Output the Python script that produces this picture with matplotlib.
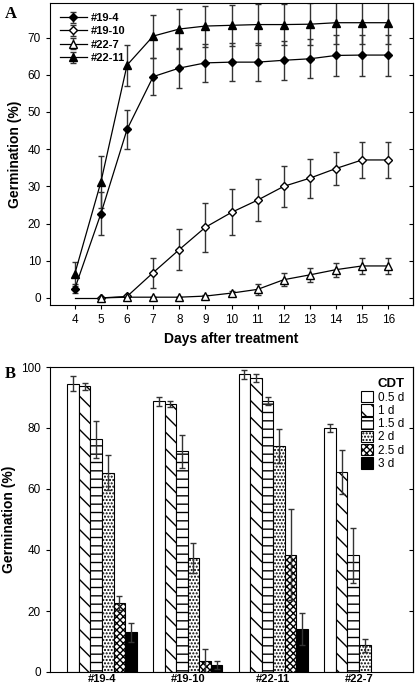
import numpy as np
import matplotlib
matplotlib.use("Agg")
import matplotlib.pyplot as plt
from matplotlib.patches import Patch

plt.rcParams['font.family'] = ['Liberation Sans', 'DejaVu Sans']
plt.rcParams['hatch.linewidth'] = 1.0

# ---- panel A data: germination time course ----
days = [4, 5, 6, 7, 8, 9, 10, 11, 12, 13, 14, 15, 16]
g19_4 = [2.5, 22.7, 45.3, 59.5, 61.8, 63.2, 63.4, 63.4, 63.9, 64.3, 65.2, 65.3, 65.3]
g19_4_err = [1.3, 5.7, 5.2, 5.0, 5.3, 5.2, 5.2, 5.2, 5.3, 5.2, 5.5, 5.5, 5.5]
g19_10 = [0, 0, 0.4, 6.8, 13.0, 19.0, 23.0, 26.3, 30.0, 32.2, 34.8, 37.1, 37.1]
g19_10_err = [0, 0, 0.3, 4.0, 5.5, 6.6, 6.2, 5.6, 5.6, 5.2, 4.5, 4.8, 4.8]
g22_7 = [0, 0, 0.2, 0.2, 0.2, 0.5, 1.3, 2.3, 4.9, 6.2, 7.6, 8.6, 8.6]
g22_7_err = [0, 0, 0, 0, 0, 0.3, 0.5, 1.5, 1.8, 1.9, 1.9, 2.2, 2.2]
g22_11 = [6.5, 31.2, 62.6, 70.4, 72.3, 73.1, 73.3, 73.5, 73.5, 73.6, 74.0, 74.0, 74.0]
g22_11_err = [3.2, 7.0, 5.5, 5.8, 5.3, 5.5, 5.5, 5.5, 5.5, 5.6, 5.8, 5.8, 5.8]

# ---- panel B data: germination after cold-dark treatment ----
lines_b = ['#19-4', '#19-10', '#22-11', '#22-7']
cdt = ['0.5 d', '1 d', '1.5 d', '2 d', '2.5 d', '3 d']
germ_b = [
    [94.5, 93.7, 76.3, 65.3, 22.6, 13.0],
    [88.7, 88.0, 72.3, 37.3, 3.7, 2.3],
    [97.6, 96.4, 88.8, 74.2, 38.5, 14.0],
    [80.0, 65.5, 38.3, 8.7, np.nan, np.nan],
]
germ_b_err = [
    [2.5, 1.2, 6.0, 5.7, 2.3, 3.0],
    [1.6, 1.0, 5.3, 5.0, 3.7, 1.2],
    [1.5, 1.2, 1.3, 5.6, 14.8, 5.3],
    [1.2, 7.3, 9.0, 2.0, 0, 0],
]

fig = plt.figure(figsize=(4.15, 6.88), dpi=100)

# ---------------- panel A ----------------
axA = fig.add_axes([50/415, 1-305/688, 363/415, 302/688])
ebkw = dict(ecolor='#333333', elinewidth=1.0, capsize=2, capthick=1.0)
axA.errorbar(days, g19_4, yerr=g19_4_err, color='black', lw=0.9, marker='D', ms=4.5,
             mfc='black', mec='black', label='#19-4', **ebkw)
axA.errorbar(days[1:], g19_10[1:], yerr=g19_10_err[1:], color='black', lw=0.9, marker='D', ms=4.5,
             mfc='white', mec='black', label='#19-10', **ebkw)
axA.plot(days[:2], g19_10[:2], color='black', lw=0.9)
axA.errorbar(days[1:], g22_7[1:], yerr=g22_7_err[1:], color='black', lw=0.9, marker='^', ms=6,
             mfc='white', mec='black', label='#22-7', **ebkw)
axA.errorbar(days, g22_11, yerr=g22_11_err, color='black', lw=0.9, marker='^', ms=6,
             mfc='black', mec='black', label='#22-11', **ebkw)

axA.set_xlim(3.05, 16.95)
axA.set_ylim(-1.9, 79.3)
axA.set_xticks(days)
axA.set_yticks([0, 10, 20, 30, 40, 50, 60, 70])
axA.tick_params(labelsize=8.5, direction='out', length=3)
axA.set_xlabel('Days after treatment', fontsize=10, fontweight='bold')
axA.set_ylabel('Germination (%)', fontsize=10, fontweight='bold')
secA = axA.secondary_yaxis('right')
secA.set_yticks([0, 10, 20, 30, 40, 50, 60, 70])
secA.tick_params(direction='in', length=3, labelright=False)
leg = axA.legend(loc='upper left', frameon=False, handlelength=2.4,
                 borderaxespad=0.5, labelspacing=0.3, handletextpad=0.4,
                 prop={'weight': 'bold', 'size': 8})
fig.text(5/415, 1-18/688, 'A', fontsize=12, fontweight='bold', family='Liberation Serif')

# ---------------- panel B ----------------
axB = fig.add_axes([50/415, 1-672/688, 363/415, 305/688])
width = 0.135
faces = ['white', 'white', 'white', 'white', 'white', 'black']
hatches = ['', '\\\\', '--', '.....', 'xxxxx', '']
x = np.arange(len(lines_b))
for j in range(len(cdt)):
    vals = [germ_b[i][j] for i in range(len(lines_b))]
    errs = [germ_b_err[i][j] for i in range(len(lines_b))]
    pos = x + (j - 2.5) * width
    axB.bar(pos, vals, width, color=faces[j], edgecolor='black', hatch=hatches[j], lw=0.8,
            label=cdt[j])
    axB.errorbar(pos, vals, yerr=errs, fmt='none', ecolor='#333333', elinewidth=1.0,
                 capsize=2, capthick=1.0)

axB.set_xlim(-0.607, 3.63)
axB.set_ylim(0, 100)
axB.set_xticks(x)
axB.set_xticklabels(lines_b, fontweight='bold', fontsize=8)
axB.set_yticks([0, 20, 40, 60, 80, 100])
axB.tick_params(axis='y', labelsize=8.5, direction='out', length=3)
axB.tick_params(axis='x', length=0, pad=1.5)
axB.set_ylabel('Germination (%)', fontsize=10, fontweight='bold')
secB = axB.secondary_yaxis('right')
secB.set_yticks([20, 40, 60, 80])
secB.tick_params(direction='in', length=3, labelright=False)
handles = [Patch(facecolor=faces[j], edgecolor='black', hatch=hatches[j], lw=0.8)
           for j in range(len(cdt))]
legB = axB.legend(handles, cdt, title='CDT', loc='upper right', frameon=False, fontsize=8.5,
                  handlelength=1.0, handleheight=1.1, labelspacing=0.05, handletextpad=0.5,
                  borderaxespad=0.3, bbox_to_anchor=(1.0, 0.99))
legB.get_title().set_fontweight('bold')
legB.get_title().set_fontsize(9.5)
legB._legend_box.align = 'right'
fig.text(5/415, 1-378/688, 'B', fontsize=12, fontweight='bold', family='Liberation Serif')

fig.savefig('out.png', dpi=100)
